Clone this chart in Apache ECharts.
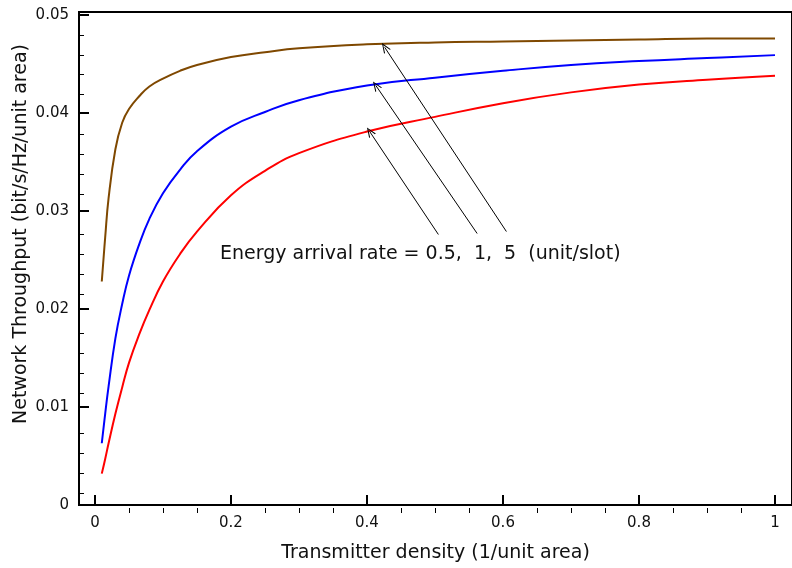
<!DOCTYPE html>
<html>
<head>
<meta charset="utf-8">
<script src="https://cdn.jsdelivr.net/npm/echarts@6/dist/echarts.min.js"></script>
<style>
  html, body { margin: 0; padding: 0; background: #fff; }
  #chart { width: 792px; height: 568px; }
</style>
</head>
<body>
<div id="chart"></div>
<script>
// transmitter density (x) and throughput per energy arrival rate
const density = [0.01, 0.015, 0.02, 0.03, 0.04, 0.05, 0.065, 0.08, 0.1, 0.125, 0.15, 0.2, 0.25, 0.3, 0.4, 0.5, 0.6, 0.7, 0.8, 0.9, 1.0]
const rate05 = [0.0032, 0.0047, 0.0063, 0.0093, 0.0120, 0.0145, 0.0174, 0.0199, 0.0228, 0.0256, 0.0279, 0.0316, 0.0341, 0.0359, 0.0381, 0.0396, 0.0410, 0.0421, 0.0429, 0.0434, 0.0438]
const rate1 = [0.0063, 0.0093, 0.0121, 0.0170, 0.0205, 0.0234, 0.0266, 0.0292, 0.0318, 0.0342, 0.0361, 0.0386, 0.0401, 0.0413, 0.0428, 0.0436, 0.0443, 0.0449, 0.0453, 0.0456, 0.0459]
const rate5 = [0.0228, 0.0273, 0.0313, 0.0363, 0.0390, 0.0404, 0.0417, 0.0427, 0.0435, 0.0443, 0.0449, 0.0457, 0.0462, 0.0466, 0.0470, 0.0472, 0.0473, 0.0474, 0.0475, 0.0476, 0.0476]

// tick values
const xTicks = [0, 0.2, 0.4, 0.6, 0.8, 1]
const xMinor = [0.05, 0.1, 0.15, 0.25, 0.3, 0.35, 0.45, 0.5, 0.55, 0.65, 0.7, 0.75, 0.85, 0.9, 0.95]
const yTicks = [0, 0.01, 0.02, 0.03, 0.04, 0.05]
const yMinor = [0.002, 0.004, 0.006, 0.008, 0.012, 0.014, 0.016, 0.018, 0.022, 0.024, 0.026, 0.028,
  0.032, 0.034, 0.036, 0.038, 0.042, 0.044, 0.046, 0.048]

// annotation arrows: [tail x, tail y, head x, head y]
const arrows = [
  [0.505, 0.0276, 0.404, 0.0381],
  [0.562, 0.0277, 0.413, 0.0428],
  [0.605, 0.0279, 0.426, 0.0467]
]

const FONT = 'DejaVu Sans'
const X_MIN = -0.0235, X_MAX = 1.025
const Y_MIN = 0, Y_MAX = 0.0503

const chevron = 'path://M5,0 L10,12 L8.6,12 L5,3 L1.4,12 L0,12 Z'

const chart = echarts.init(document.getElementById('chart'))

const pts = (ys) => density.map((x, i) => [x, ys[i]])
const lineSeries = (name, ys, color) => ({
  name,
  type: 'line',
  data: pts(ys),
  showSymbol: false,
  smooth: 0.45,
  lineStyle: { color, width: 2 },
  itemStyle: { color },
  silent: true,
  z: 3
})

const red = lineSeries('0.5', rate05, '#ff0000')
red.markLine = {
  silent: true,
  symbol: ['none', chevron],
  symbolSize: [8, 10],
  label: { show: false },
  lineStyle: { color: '#000', width: 1, type: 'solid' },
  data: arrows.map(a => [{ coord: [a[0], a[1]] }, { coord: [a[2], a[3]] }])
}

// same box for both grids; the second one only carries the minor ticks
const box = { left: 79, top: 12, right: -2, bottom: 55 }

const option = {
  animation: false,
  backgroundColor: '#fff',
  grid: [
    Object.assign({ show: true, borderColor: '#000', borderWidth: 2 }, box),
    Object.assign({ show: false }, box)
  ],
  xAxis: [
    {
      type: 'value', min: X_MIN, max: X_MAX, gridIndex: 0,
      axisLine: { show: true, onZero: false, lineStyle: { color: '#000', width: 2 } },
      axisTick: { show: true, inside: true, length: 10, customValues: xTicks, lineStyle: { color: '#000', width: 2 } },
      axisLabel: { customValues: xTicks, margin: 11, color: '#111', fontFamily: FONT, fontSize: 15,
        formatter: v => String(v) },
      splitLine: { show: false },
      name: 'Transmitter density (1/unit area)',
      nameLocation: 'middle', nameGap: 39,
      nameTextStyle: { color: '#111', fontFamily: FONT, fontSize: 19 }
    },
    {
      type: 'value', min: X_MIN, max: X_MAX, gridIndex: 1, position: 'bottom',
      axisLine: { show: false, onZero: false },
      axisTick: { show: true, inside: true, length: 5, customValues: xMinor, lineStyle: { color: '#000', width: 1 } },
      axisLabel: { show: false },
      splitLine: { show: false }
    }
  ],
  yAxis: [
    {
      type: 'value', min: Y_MIN, max: Y_MAX, gridIndex: 0,
      axisLine: { show: true, onZero: false, lineStyle: { color: '#000', width: 2 } },
      axisTick: { show: true, inside: true, length: 10, customValues: yTicks, lineStyle: { color: '#000', width: 2 } },
      axisLabel: { customValues: yTicks, margin: 10, color: '#111', fontFamily: FONT, fontSize: 15,
        formatter: v => v === 0 ? '0' : v.toFixed(2) },
      splitLine: { show: false }
    },
    {
      type: 'value', min: Y_MIN, max: Y_MAX, gridIndex: 1, position: 'left',
      axisLine: { show: false, onZero: false },
      axisTick: { show: true, inside: true, length: 5, customValues: yMinor, lineStyle: { color: '#000', width: 1 } },
      axisLabel: { show: false },
      splitLine: { show: false }
    }
  ],
  graphic: [
    {
      type: 'text', x: 21, y: 234, rotation: Math.PI / 2,
      style: {
        text: 'Network Throughput (bit/s/Hz/unit area)',
        fill: '#111', font: '19px "DejaVu Sans"',
        align: 'center', verticalAlign: 'middle'
      }
    },
    {
      type: 'text', x: 220, y: 254,
      style: {
        text: 'Energy arrival rate = 0.5,  1,  5  (unit/slot)',
        fill: '#111', font: '19px "DejaVu Sans"',
        align: 'left', verticalAlign: 'middle'
      }
    }
  ],
  series: [
    red,
    lineSeries('1', rate1, '#0000ff'),
    lineSeries('5', rate5, '#7f4800')
  ]
}

chart.setOption(option)
</script>
</body>
</html>
